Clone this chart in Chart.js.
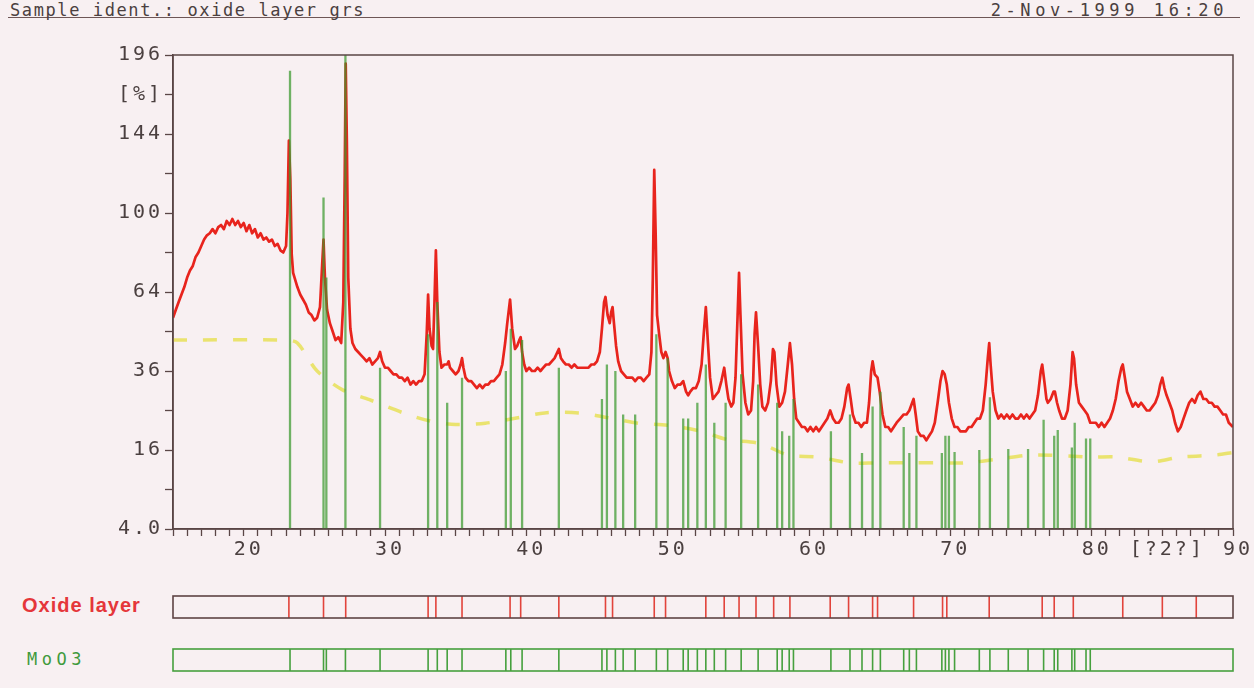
<!DOCTYPE html>
<html>
<head>
<meta charset="utf-8">
<title>oxide layer grs</title>
<script src="https://cdn.jsdelivr.net/npm/chart.js@4/dist/chart.umd.min.js"></script>
<style>
  html, body { margin: 0; padding: 0; background: #f8f0f2; }
  body { width: 1254px; height: 688px; position: relative; overflow: hidden;
         font-family: "DejaVu Sans Mono", monospace; color: #4b4040; }
  #head { position: absolute; left: 8px; top: 0; width: 1232px; height: 17px;
          border-bottom: 1.5px solid #6e5656; font-size: 17px; line-height: 18px; }
  #head .l { position: absolute; left: 2px; top: 1px; letter-spacing: 1.6px; }
  #head .r { position: absolute; right: 12px; top: 1px; letter-spacing: 4.6px; }
  canvas { position: absolute; left: 0; }
  #main { top: 0; }
  #stripOxide { top: 595px; }
  #stripMoo { top: 648px; }
  .tag { position: absolute; }
  #tagOxide { left: 22px; top: 594px; font: bold 20px "Liberation Sans", sans-serif;
              color: #e5363a; letter-spacing: 1px; }
  #tagMoo { left: 27px; top: 649px; font-size: 17px; color: #3f9a3c; letter-spacing: 4.5px; }
</style>
</head>
<body>
<div id="head"><span class="l">Sample ident.: oxide layer grs</span><span class="r">2-Nov-1999 16:20</span></div>
<canvas id="main" width="1254" height="575"></canvas>
<div class="tag" id="tagOxide">Oxide layer</div>
<canvas id="stripOxide" width="1254" height="24"></canvas>
<div class="tag" id="tagMoo">MoO3</div>
<canvas id="stripMoo" width="1254" height="24"></canvas>
<script>
// measured scan, 2theta [deg] and intensity [%]
const scanAngle = [
  15.0, 15.2, 15.4, 15.6, 15.8, 16.0, 16.2, 16.4, 16.6, 16.8,
  17.0, 17.2, 17.4, 17.6, 17.8, 18.0, 18.2, 18.4, 18.6, 18.8,
  19.0, 19.2, 19.4, 19.6, 19.8, 20.0, 20.2, 20.4, 20.6, 20.8,
  21.0, 21.2, 21.4, 21.6, 21.8, 22.0, 22.2, 22.4, 22.6, 22.8,
  23.0, 23.1, 23.2, 23.3, 23.4, 23.5, 23.6, 23.8, 24.0, 24.2,
  24.4, 24.6, 24.8, 25.0, 25.2, 25.4, 25.55, 25.65, 25.75, 25.9,
  26.1, 26.3, 26.5, 26.7, 26.9, 27.05, 27.15, 27.22, 27.3, 27.4,
  27.55, 27.7, 27.9, 28.1, 28.3, 28.5, 28.7, 28.9, 29.1, 29.3,
  29.5, 29.65, 29.8, 30.0, 30.2, 30.4, 30.6, 30.8, 31.0, 31.2,
  31.4, 31.6, 31.8, 32.0, 32.2, 32.4, 32.6, 32.8, 32.95, 33.05,
  33.15, 33.3, 33.4, 33.5, 33.6, 33.7, 33.85, 34.0, 34.2, 34.4,
  34.5, 34.6, 34.8, 35.0, 35.2, 35.35, 35.45, 35.55, 35.7, 35.9,
  36.1, 36.3, 36.5, 36.7, 36.9, 37.1, 37.3, 37.5, 37.7, 37.9,
  38.1, 38.3, 38.5, 38.65, 38.85, 39.0, 39.2, 39.35, 39.5, 39.6,
  39.7, 39.85, 40.0, 40.2, 40.4, 40.6, 40.8, 41.0, 41.2, 41.4,
  41.6, 41.8, 42.0, 42.2, 42.3, 42.45, 42.6, 42.8, 43.0, 43.2,
  43.4, 43.6, 43.8, 44.0, 44.2, 44.4, 44.6, 44.8, 45.0, 45.2,
  45.35, 45.5, 45.6, 45.75, 45.9, 46.0, 46.1, 46.2, 46.35, 46.5,
  46.7, 46.9, 47.1, 47.3, 47.5, 47.7, 47.9, 48.1, 48.3, 48.5,
  48.7, 48.85, 48.95, 49.05, 49.15, 49.25, 49.4, 49.55, 49.7, 49.85,
  50.0, 50.1, 50.3, 50.5, 50.7, 50.9, 51.1, 51.3, 51.45, 51.6,
  51.8, 52.0, 52.2, 52.4, 52.55, 52.7, 52.85, 53.0, 53.2, 53.4,
  53.6, 53.8, 54.0, 54.15, 54.3, 54.5, 54.65, 54.8, 54.95, 55.05,
  55.15, 55.3, 55.5, 55.7, 55.9, 56.05, 56.15, 56.25, 56.4, 56.55,
  56.7, 56.9, 57.1, 57.3, 57.45, 57.55, 57.7, 57.9, 58.1, 58.3,
  58.5, 58.65, 58.8, 58.95, 59.1, 59.3, 59.5, 59.7, 59.9, 60.1,
  60.3, 60.5, 60.7, 60.9, 61.1, 61.3, 61.5, 61.7, 61.9, 62.1,
  62.3, 62.5, 62.7, 62.8, 62.95, 63.1, 63.3, 63.5, 63.7, 63.9,
  64.1, 64.25, 64.4, 64.5, 64.65, 64.85, 65.0, 65.2, 65.4, 65.6,
  65.8, 66.0, 66.2, 66.45, 66.7, 66.9, 67.1, 67.3, 67.4, 67.55,
  67.7, 67.9, 68.1, 68.3, 68.5, 68.7, 68.9, 69.1, 69.3, 69.45,
  69.6, 69.75, 69.9, 70.1, 70.3, 70.5, 70.7, 70.9, 71.1, 71.3,
  71.5, 71.7, 71.9, 72.1, 72.3, 72.5, 72.65, 72.75, 72.85, 73.0,
  73.2, 73.4, 73.6, 73.8, 74.0, 74.2, 74.4, 74.6, 74.8, 75.0,
  75.2, 75.4, 75.6, 75.8, 76.0, 76.2, 76.4, 76.5, 76.65, 76.8,
  76.9, 77.1, 77.3, 77.4, 77.55, 77.7, 77.9, 78.1, 78.3, 78.5,
  78.65, 78.75, 78.9, 79.1, 79.3, 79.5, 79.7, 79.9, 80.1, 80.3,
  80.5, 80.7, 80.9, 81.1, 81.3, 81.5, 81.7, 81.9, 82.1, 82.2,
  82.35, 82.5, 82.7, 82.9, 83.1, 83.3, 83.5, 83.7, 83.9, 84.1,
  84.3, 84.5, 84.7, 84.85, 85.0, 85.15, 85.3, 85.5, 85.7, 85.9,
  86.1, 86.3, 86.5, 86.7, 86.9, 87.1, 87.3, 87.5, 87.7, 87.9,
  88.1, 88.3, 88.5, 88.7, 88.9, 89.1, 89.3, 89.5, 89.7, 90.0
];
const scanCounts = [
  54, 57, 60, 63, 66, 70, 73, 75, 79, 81,
  84, 87, 89, 90, 92, 90, 93, 94, 92, 96,
  94, 97, 94, 96, 93, 95, 91, 94, 90, 92,
  88, 90, 87, 88, 86, 87, 84, 85, 82, 81,
  84, 100, 140, 118, 80, 72, 70, 66, 63, 61,
  59, 56, 55, 53, 54, 58, 75, 87, 70, 57,
  52, 49, 46, 47, 45, 60, 120, 190, 140, 70,
  50, 45, 43, 42, 41, 40, 39, 40, 38, 39,
  40, 42, 39, 37, 37, 36, 35, 35, 34, 34,
  33, 34, 32, 33, 32, 33, 33, 35, 48, 63,
  50, 44, 43, 60, 82, 60, 42, 37, 38, 38,
  39, 37, 36, 35, 36, 38, 40, 37, 34, 33,
  33, 32, 31, 32, 31, 32, 32, 33, 33, 34,
  35, 38, 45, 52, 61, 50, 43, 44, 46, 47,
  42, 38, 36, 37, 36, 36, 37, 36, 37, 38,
  38, 39, 40, 42, 43, 40, 39, 38, 38, 37,
  38, 37, 37, 37, 37, 37, 38, 38, 39, 42,
  50, 60, 62, 55, 52, 56, 58, 52, 44, 39,
  36, 35, 34, 34, 34, 33, 34, 34, 33, 34,
  35, 42, 70, 123, 90, 55, 48, 42, 40, 42,
  40, 36, 33, 31, 32, 32, 33, 30, 29, 30,
  31, 31, 33, 38, 48, 58, 45, 34, 28, 29,
  30, 33, 37, 32, 28, 26, 27, 34, 55, 72,
  55, 35, 27, 24, 25, 33, 48, 56, 44, 32,
  26, 25, 27, 33, 43, 42, 32, 26, 27, 30,
  38, 45, 38, 28, 23, 22, 21, 21, 20, 21,
  20, 21, 20, 21, 22, 23, 25, 23, 22, 22,
  23, 26, 31, 32, 28, 24, 22, 22, 21, 22,
  22, 27, 36, 39, 35, 34, 30, 24, 21, 21,
  20, 21, 22, 23, 24, 24, 25, 27, 28, 24,
  20, 19, 19, 18, 19, 20, 22, 27, 33, 36,
  35, 32, 27, 23, 21, 21, 20, 20, 20, 21,
  21, 22, 23, 23, 25, 32, 40, 45, 38, 30,
  25, 23, 24, 23, 24, 23, 24, 23, 23, 24,
  23, 24, 23, 24, 25, 29, 36, 38, 33, 28,
  27, 28, 30, 30, 27, 25, 23, 23, 25, 32,
  42, 40, 32, 27, 26, 25, 24, 22, 22, 22,
  21, 22, 21, 22, 23, 25, 28, 33, 37, 38,
  34, 30, 28, 26, 27, 26, 27, 26, 25, 25,
  26, 27, 29, 32, 34, 31, 29, 27, 25, 22,
  20, 21, 23, 25, 27, 28, 27, 29, 30, 28,
  28, 27, 27, 26, 26, 25, 24, 24, 22, 21
];

// fitted background
const bgAngle = [15, 23.0, 23.8, 25.2, 27.0, 28.9, 31.3, 33.2, 35.0, 37.1, 39.4, 41.3,
  43.7, 45.8, 47.9, 50.0, 52.4, 54.2, 56.6, 58.5, 60.6, 62.9, 64.8, 67.2, 69.3, 71.1,
  73.4, 75.8, 80.0, 81.8, 84.2, 86.3, 88.8, 90];
const bgCounts = [46, 46, 45, 36, 30.5, 27.8, 24.4, 22.4, 21.6, 21.9, 23.2, 24.4,
  24.4, 23.2, 21.9, 21.4, 20.0, 18.2, 17.3, 15.0, 14.6, 13.5, 13.5, 13.5, 13.5, 13.5,
  14.2, 15.0, 14.6, 14.6, 13.7, 14.6, 15.0, 15.5];

// MoO3 reference pattern
const mooAngle = [23.28, 25.65, 25.85, 27.2, 29.65, 33.05, 33.7, 34.4, 35.45, 38.55,
  38.9, 39.7, 42.3, 45.35, 45.7, 46.3, 46.85, 47.7, 49.2, 50.0,
  51.1, 51.45, 52.1, 52.7, 53.3, 54.1, 55.2, 56.4, 57.75, 58.1,
  58.6, 58.9, 61.55, 62.9, 63.75, 64.5, 65.05, 66.7, 67.1, 67.6,
  69.4, 69.65, 69.9, 70.3, 72.05, 72.8, 74.1, 75.5, 76.6, 77.35,
  77.6, 78.6, 78.8, 79.6, 79.9];
const mooHeight = [185, 108, 70, 210, 37, 48, 60, 27, 34, 36,
  50, 46, 37, 28, 38, 36, 24, 24, 48, 40,
  23, 23, 27, 38, 22, 27, 35, 32, 27, 20,
  19, 28, 20, 24, 15.4, 26, 30, 21, 15.4, 19,
  15.4, 19, 19, 15.6, 16, 28.5, 16.2, 16.2, 22.7, 19,
  20.3, 16.5, 22, 18.4, 18.4];

// peak list of the oxide layer scan
const oxidePeaks = [23.2, 25.65, 27.22, 33.05, 33.6, 35.45, 38.85, 39.6, 42.3, 45.6,
  46.1, 49.05, 49.85, 52.7, 54.0, 55.05, 56.25, 57.5, 58.65, 61.5,
  62.8, 64.5, 64.85, 67.4, 69.45, 69.75, 72.75, 76.5, 77.35, 78.7,
  82.2, 85.0, 87.4];

const xLabelAt = [20, 30, 40, 50, 60, 70, 80, 85, 90];
const xLabelText = ['20', '30', '40', '50', '60', '70', '80', '[?2?]', '90'];
const yLabelAt = [4, 16, 36, 64, 100, 144, 169, 196];
const yLabelText = ['4.0', '16', '36', '64', '100', '144', '[%]', '196'];

const ink = '#4b4040';
const axisColor = '#5a4646';
const axisFont = { family: 'DejaVu Sans Mono', size: 20 };

// intensity axis is square-root scaled
const root = v => Math.sqrt(v);

function sticks(pos, top, base) {
  const pts = [];
  pos.forEach((x, i) => {
    pts.push({ x, y: base }, { x, y: top[i] }, { x, y: null });
  });
  return pts;
}

const frame = {
  id: 'frame',
  afterDatasetsDraw(chart, args, opts) {
    const { ctx, chartArea: a } = chart;
    ctx.save();
    ctx.strokeStyle = opts.color;
    ctx.lineWidth = opts.width;
    ctx.strokeRect(a.left, a.top, a.right - a.left, a.bottom - a.top);
    ctx.restore();
  }
};

const spacing = {
  id: 'spacing',
  beforeLayout(chart, args, opts) {
    chart.ctx.letterSpacing = opts.value;
  }
};

new Chart(document.getElementById('main'), {
  type: 'line',
  data: {
    datasets: [{
      label: 'MoO3',
      data: sticks(mooAngle, mooHeight.map(root), root(4)),
      borderColor: 'rgba(58, 152, 44, 0.72)',
      borderWidth: 2.3,
      pointRadius: 0,
      spanGaps: false,
      order: 0
    }, {
      label: 'Oxide layer',
      data: scanAngle.map((x, i) => ({ x, y: root(scanCounts[i]) })),
      borderColor: '#e8241d',
      borderWidth: 2.7,
      borderJoinStyle: 'round',
      pointRadius: 0,
      tension: 0,
      order: 1
    }, {
      label: 'Background',
      data: bgAngle.map((x, i) => ({ x, y: root(bgCounts[i]) })),
      borderColor: 'rgba(232, 224, 88, 0.85)',
      borderWidth: 3.5,
      borderDash: [14, 16],
      pointRadius: 0,
      tension: 0.3,
      order: 2
    }]
  },
  options: {
    responsive: false,
    animation: false,
    layout: { padding: { top: 55, right: 21, left: 0, bottom: 0 } },
    plugins: {
      legend: { display: false },
      tooltip: { enabled: false },
      frame: { color: axisColor, width: 1.5 },
      spacing: { value: '3px' }
    },
    scales: {
      x: {
        type: 'linear',
        min: 15,
        max: 90,
        afterFit(scale) { scale.height = 46; },
        border: { color: axisColor, width: 1.5 },
        grid: { drawOnChartArea: false, tickLength: 7, color: axisColor, tickWidth: 1.3 },
        ticks: {
          stepSize: 1,
          maxTicksLimit: 100,
          autoSkip: false,
          maxRotation: 0,
          padding: 2,
          labelOffset: 5,
          color: ink,
          font: axisFont,
          callback(v) {
            const k = xLabelAt.indexOf(v);
            return k < 0 ? '' : xLabelText[k];
          }
        }
      },
      y: {
        type: 'linear',
        min: 2,
        max: 14,
        afterFit(scale) { scale.width = 173; },
        border: { color: axisColor, width: 1.5 },
        grid: { drawOnChartArea: false, tickLength: 8, color: axisColor, tickWidth: 1.3 },
        ticks: {
          stepSize: 1,
          padding: 2,
          color: ink,
          font: axisFont,
          callback(v) {
            const k = yLabelAt.indexOf(Math.round(v * v));
            return k < 0 ? '' : yLabelText[k];
          }
        }
      }
    }
  },
  plugins: [frame, spacing]
});

// reference strips below the scan
function strip(id, pos, color, box) {
  new Chart(document.getElementById(id), {
    type: 'line',
    data: {
      datasets: [{
        data: sticks(pos, pos.map(() => 1), 0),
        borderColor: color,
        borderWidth: 1.6,
        pointRadius: 0,
        spanGaps: false
      }]
    },
    options: {
      responsive: false,
      animation: false,
      layout: { padding: { top: 1, bottom: 1, left: 173, right: 21 } },
      plugins: {
        legend: { display: false },
        tooltip: { enabled: false },
        frame: { color: box, width: 1.6 }
      },
      scales: {
        x: { type: 'linear', min: 15, max: 90, display: false },
        y: { min: 0, max: 1, display: false }
      }
    },
    plugins: [frame]
  });
}

strip('stripOxide', oxidePeaks, '#e2443c', '#5e4444');
strip('stripMoo', mooAngle, '#46a03e', '#46a03e');
</script>
</body>
</html>
